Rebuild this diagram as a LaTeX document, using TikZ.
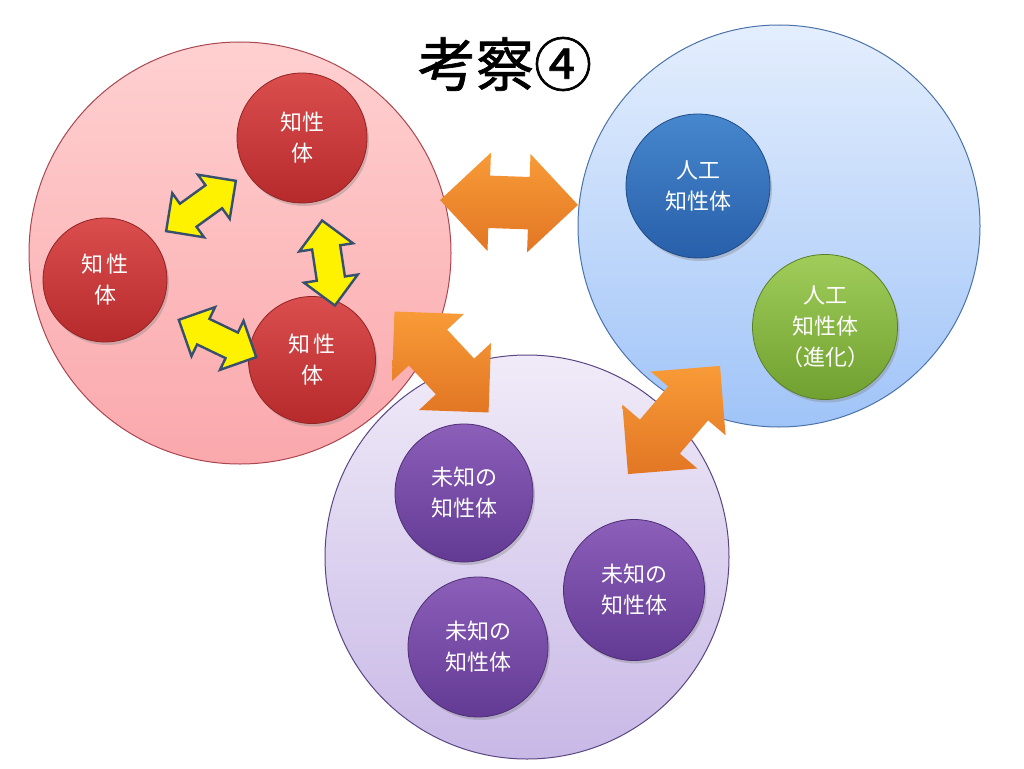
\documentclass[tikz,border=0pt]{standalone}
\usepackage{fontspec}
\setmainfont{Noto Sans CJK JP}
\newfontfamily\titlefont[FakeBold=1.2]{Noto Sans CJK JP}
\usetikzlibrary{shapes.arrows,shadows}
\definecolor{redA}{RGB}{255,208,208}
\definecolor{redB}{RGB}{250,168,172}
\definecolor{redL}{RGB}{170,70,80}
\definecolor{blueA}{RGB}{228,238,253}
\definecolor{blueB}{RGB}{160,196,248}
\definecolor{blueL}{RGB}{75,115,170}
\definecolor{purA}{RGB}{240,235,248}
\definecolor{purB}{RGB}{200,184,230}
\definecolor{purL}{RGB}{90,70,130}
\definecolor{ballRedA}{RGB}{218,78,78}
\definecolor{ballRedB}{RGB}{182,42,44}
\definecolor{ballBlueA}{RGB}{70,135,205}
\definecolor{ballBlueB}{RGB}{40,95,170}
\definecolor{ballGreenA}{RGB}{160,205,90}
\definecolor{ballGreenB}{RGB}{112,160,48}
\definecolor{ballPurA}{RGB}{140,95,185}
\definecolor{ballPurB}{RGB}{98,58,148}
\definecolor{orA}{RGB}{248,155,55}
\definecolor{orB}{RGB}{226,118,36}
\definecolor{yelL}{RGB}{55,80,110}
\tikzset{
  area/.style={circle, inner sep=0pt, line width=1pt},
  ball/.style={circle, inner sep=0pt, text=white, align=center,
    font=\fontsize{22}{31}\selectfont,
    drop shadow={opacity=0.35, shadow xshift=2pt, shadow yshift=-3pt}},
  redball/.style={ball, top color=ballRedA, bottom color=ballRedB, draw=ballRedB!80!black, line width=0.8pt},
  blueball/.style={ball, top color=ballBlueA, bottom color=ballBlueB, draw=ballBlueB!80!black, line width=0.8pt},
  greenball/.style={ball, top color=ballGreenA, bottom color=ballGreenB, draw=ballGreenB!80!black, line width=0.8pt},
  purball/.style={ball, top color=ballPurA, bottom color=ballPurB, draw=ballPurB!80!black, line width=0.8pt},
  orarrow/.style={double arrow, inner xsep=0pt, inner ysep=26pt, double arrow tip angle=90,
    double arrow head extend=23pt, minimum height=138pt, minimum width=98pt,
    top color=orA, bottom color=orB},
  yelarrow/.style={double arrow, inner xsep=0pt, inner ysep=13pt, double arrow tip angle=90,
    double arrow head extend=13pt, minimum height=86pt, minimum width=52pt,
    fill=yellow, draw=yelL, line width=2.4pt, line join=miter},
}
\begin{document}
\begin{tikzpicture}[x=1pt,y=-1pt]
\useasboundingbox (0,0) rectangle (1024,768);
\fill[white] (0,0) rectangle (1024,768);

% big areas
\node[area, minimum size=422pt, top color=redA, bottom color=redB, draw=redL] (redarea) at (240,253) {};
\node[area, minimum size=402pt, top color=blueA, bottom color=blueB, draw=blueL] (bluearea) at (779,226) {};
\node[area, minimum size=404pt, top color=purA, bottom color=purB, draw=purL] (purarea) at (527,557) {};

% title
\node[font=\titlefont\fontsize{58}{60}\selectfont] (title) at (505,64) {考察④};

% red balls
\node[redball, minimum size=130pt] (r1) at (302,138) {知性\\体};
\node[redball, minimum size=124pt] (r2) at (105,280) {知\hspace{3pt}性\\体};
\node[redball, minimum size=127pt] (r3) at (312,360) {知\hspace{3pt}性\\体};

% blue area balls
\node[blueball, minimum size=144pt] (b1) at (698,186) {人工\\知性体};
\node[greenball, minimum size=145pt] (g1) at (825,327) {人工\\知性体\\（進化）};

% purple balls
\node[purball, minimum size=138pt] (p1) at (464,493) {未知の\\知性体};
\node[purball, minimum size=141pt] (p2) at (634,590) {未知の\\知性体};
\node[purball, minimum size=140pt] (p3) at (478,647) {未知の\\知性体};

% yellow arrows
\node[yelarrow, rotate=35.8] (y1) at (201,206) {};
\node[yelarrow, rotate=-81.4] (y2) at (328.5,263) {};
\node[yelarrow, rotate=-25.7] (y3) at (217.5,338.5) {};

% orange arrows
\node[orarrow, rotate=-2] (o1) at (509,202.5) {};
\node[orarrow, rotate=-47] (o2) at (441.5,362) {};
\node[orarrow, rotate=49.6, minimum height=142pt] (o3) at (674,420) {};
\end{tikzpicture}
\end{document}
